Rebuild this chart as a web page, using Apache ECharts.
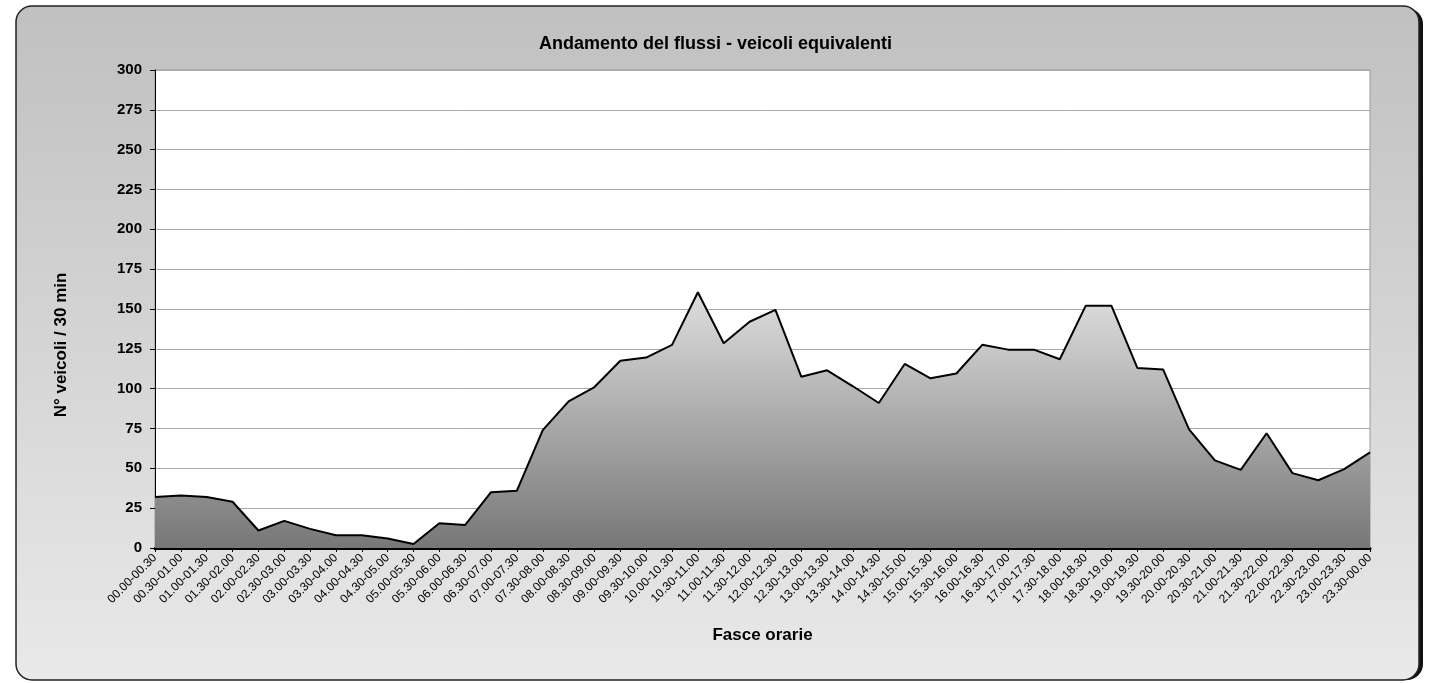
<!DOCTYPE html>
<html>
<head>
<meta charset="utf-8">
<script src="https://cdn.jsdelivr.net/npm/echarts@6/dist/echarts.min.js"></script>
<style>
html,body{margin:0;padding:0;background:#ffffff;}
#c{width:1431px;height:683px;}
</style>
</head>
<body>
<div id="c"></div>
<script>
const categories = [
"00.00-00.30","00.30-01.00","01.00-01.30","01.30-02.00","02.00-02.30","02.30-03.00",
"03.00-03.30","03.30-04.00","04.00-04.30","04.30-05.00","05.00-05.30","05.30-06.00",
"06.00-06.30","06.30-07.00","07.00-07.30","07.30-08.00","08.00-08.30","08.30-09.00",
"09.00-09.30","09.30-10.00","10.00-10.30","10.30-11.00","11.00-11.30","11.30-12.00",
"12.00-12.30","12.30-13.00","13.00-13.30","13.30-14.00","14.00-14.30","14.30-15.00",
"15.00-15.30","15.30-16.00","16.00-16.30","16.30-17.00","17.00-17.30","17.30-18.00",
"18.00-18.30","18.30-19.00","19.00-19.30","19.30-20.00","20.00-20.30","20.30-21.00",
"21.00-21.30","21.30-22.00","22.00-22.30","22.30-23.00","23.00-23.30","23.30-00.00"
];
const flowValues = [
32,33,32,29,11,17,12,8,8,6,2.5,15.5,
14.5,35,36,74,92,101,117.5,119.5,127.5,160.5,128.5,142,
149.5,107.5,111.5,101.5,91,115.5,106.5,109.5,127.5,124.5,124.5,118.5,
152,152,113,112,74.5,55,49,72,47,42.5,49.5,60
];
const yTicks = [0,25,50,75,100,125,150,175,200,225,250,275,300];
const titleText = "Andamento del flussi - veicoli equivalenti";
const yName = "N° veicoli / 30 min";
const xName = "Fasce orarie";

const chart = echarts.init(document.getElementById('c'), null, {renderer:'canvas'});
const FONT = '"Liberation Sans", Arial, sans-serif';
chart.setOption({
  animation:false,
  backgroundColor:'#ffffff',
  graphic:[{
    type:'rect', z:-101, silent:true,
    shape:{x:20,y:8,width:1403,height:672,r:16},
    style:{fill:'#111'}
  },{
    type:'rect', z:-100, silent:true,
    shape:{x:16,y:6,width:1403,height:674,r:16},
    style:{
      fill:new echarts.graphic.LinearGradient(0,0,0,1,[{offset:0,color:'#c0c0c0'},{offset:1,color:'#e9e9e9'}]),
      stroke:'#222', lineWidth:1.5
    }
  }],
  title:{
    text:titleText, left:'center', top:30,
    textStyle:{fontFamily:FONT, fontSize:18, fontWeight:'bold', color:'#000'}
  },
  grid:{left:155, right:61, top:70, bottom:135, show:true, backgroundColor:'#ffffff', borderColor:'#9a9a9a', borderWidth:1},
  xAxis:{
    type:'category', data:categories, boundaryGap:false,
    name:xName, nameLocation:'middle', nameGap:79,
    nameTextStyle:{fontFamily:FONT, fontSize:17, fontWeight:'bold', color:'#000'},
    axisLine:{lineStyle:{color:'#000', width:3}},
    axisTick:{show:true, length:4, lineStyle:{color:'#000', width:1}, alignWithLabel:true},
    axisLabel:{rotate:45, interval:0, fontFamily:FONT, fontSize:12, color:'#000', margin:8},
    splitLine:{show:false}
  },
  yAxis:{
    type:'value', min:0, max:300, interval:25,
    name:yName, nameLocation:'middle', nameGap:85, nameRotate:90,
    nameTextStyle:{fontFamily:FONT, fontSize:17, fontWeight:'bold', color:'#000', padding:[0,72,0,0]},
    axisLine:{show:true, lineStyle:{color:'#000', width:1}},
    axisTick:{show:true, length:5, lineStyle:{color:'#000'}},
    axisLabel:{fontFamily:FONT, fontSize:15, fontWeight:'bold', color:'#000', margin:13,
      formatter:function(v){return yTicks.indexOf(v)>=0?String(v):'';}},
    splitLine:{show:true, lineStyle:{color:'#a8a8a8', width:1}}
  },
  series:[{
    type:'line', data:flowValues, symbol:'none', smooth:false,
    lineStyle:{color:'#000', width:2},
    areaStyle:{opacity:1, color:new echarts.graphic.LinearGradient(0,0,0,1,[{offset:0,color:'#dedede'},{offset:1,color:'#777777'}])}
  }]
});
</script>
</body>
</html>
